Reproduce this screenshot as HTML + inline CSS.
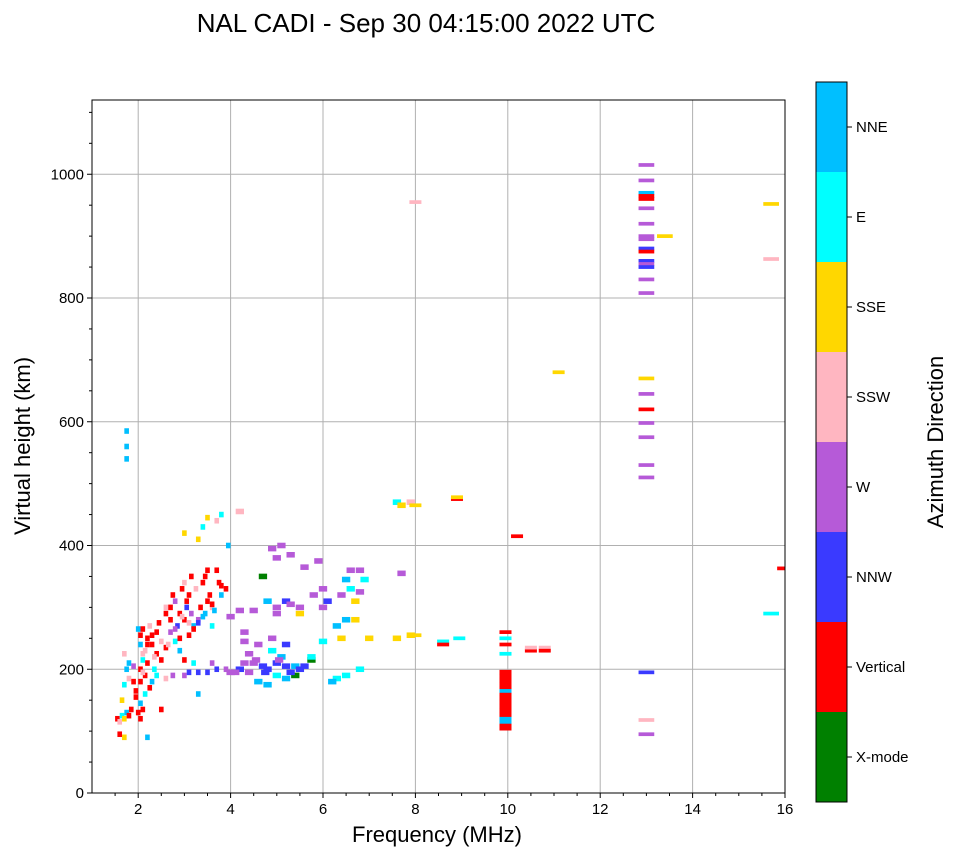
<!DOCTYPE html>
<html><head><meta charset="utf-8"><style>
body{margin:0;background:#fff;font-family:"Liberation Sans","DejaVu Sans",sans-serif;}
svg text{font-family:"Liberation Sans","DejaVu Sans",sans-serif;}
</style></head><body>
<svg id="c" width="958" height="857" xmlns="http://www.w3.org/2000/svg">
<defs><clipPath id="pc"><rect x="92" y="100" width="693" height="693"/></clipPath></defs>
<text x="426" y="32" font-size="26" text-anchor="middle">NAL CADI - Sep 30 04:15:00 2022 UTC</text>
<g id="grid"></g><g id="marks" clip-path="url(#pc)"></g><g id="axes"></g><g id="cbar"></g>
<text x="437" y="842" font-size="22" text-anchor="middle">Frequency (MHz)</text>
<text transform="translate(30,446) rotate(-90)" font-size="22" text-anchor="middle">Virtual height (km)</text>
<text transform="translate(943,442) rotate(-90)" font-size="22" text-anchor="middle">Azimuth Direction</text>
</svg>
<script>
const categories=["X-mode","Vertical","NNW","W","SSW","SSE","E","NNE"];
const catColors=["#008000","#ff0000","#3a3aff","#b65ad8","#ffb6c1","#ffd700","#00ffff","#00bfff"];
const codes={X:0,V:1,N:2,W:3,P:4,S:5,E:6,B:7};
const xTicks=[2,4,6,8,10,12,14,16];
const yTicks=[0,200,400,600,800,1000];
const freqs=[
1.55,1.6,1.65,1.7,1.75,1.8,1.85,1.6,1.7,1.65,
1.7,1.75,1.8,1.8,1.7,1.75,1.75,1.75,2.0,2.1,
2.05,1.9,1.95,2.2,2.05,2.05,2.1,2.05,2.05,2.1,
2.15,2.2,2.25,2.2,2.15,2.3,2.35,2.4,2.45,2.5,
2.5,2.4,2.6,2.6,2.7,2.7,2.75,2.8,2.85,2.9,
2.95,3.0,3.0,3.05,3.1,3.1,3.15,3.2,3.25,3.3,
3.35,3.4,3.45,3.5,3.55,3.6,3.7,3.75,3.8,3.9,
3.95,3.0,3.3,3.4,3.5,3.7,3.8,4.2,2.8,2.9,
3.0,3.2,3.3,2.6,2.75,3.0,3.1,3.3,3.5,3.7,
3.9,4.0,4.2,4.4,4.5,4.7,4.8,5.0,5.2,5.4,
5.5,4.6,4.8,5.0,5.2,5.4,5.75,5.75,5.1,4.3,
4.6,4.9,5.2,5.0,5.2,5.5,5.0,5.3,5.8,5.5,
4.5,4.8,4.2,4.3,4.0,4.7,4.9,5.1,5.3,5.0,
5.6,5.9,6.0,6.0,6.1,6.4,6.5,6.6,6.8,6.6,
6.8,6.9,6.7,6.5,6.7,6.4,6.3,6.0,6.3,6.5,
6.8,6.2,7.0,7.7,7.6,7.9,8.0,8.6,8.6,8.95,
7.6,7.7,7.9,8.0,8.9,8.9,10.2,11.1,8.0,13.4,
15.7,15.7,15.7,16.0,10.5,10.5,10.8,10.8,2.4,2.6,
2.9,3.2,3.4,3.6,2.3,2.7,3.1,3.5,3.8,2.5,
2.8,3.3,3.6,2.95,3.15,3.45,2.65,3.05,3.65,2.35,
2.1,2.2,2.3,2.15,2.25,2.05,2.1,1.95,2.0,1.9,
4.1,4.3,4.55,4.75,5.05,5.3,5.6,4.4,4.9,3.6,
9.95,9.95,9.95,9.95,9.95,9.95,9.95,9.95,9.95,9.95,
9.95,9.95,9.95,9.95,9.95,9.95,9.95,9.95,9.95,9.95,9.95,
13,13,13,13,13,13,13,13,13,13,
13,13,13,13,13,13,13,13,13,13,
13,13,13,13,13,13];
const heights=[
120,115,125,120,130,125,135,95,90,150,
175,200,185,210,225,540,560,585,130,135,
120,205,165,90,180,200,215,240,255,265,
230,250,270,210,190,180,200,260,275,245,
135,190,290,300,280,260,320,310,270,290,
330,340,280,300,255,320,350,270,330,280,
300,340,290,360,320,300,360,340,320,330,
400,420,410,430,445,440,450,455,245,230,
215,210,160,185,190,190,195,195,195,200,
200,195,200,195,210,205,200,210,205,205,
200,180,175,190,185,190,215,220,220,245,
240,250,240,300,310,300,290,305,320,290,
295,310,295,260,285,350,395,400,385,380,
365,375,330,300,310,320,345,360,360,330,
325,345,310,280,280,250,270,245,185,190,
200,180,250,355,250,255,255,245,240,250,
470,465,470,465,475,478,415,680,955,900,
952,863,290,363,230,235,235,230,225,235,
250,265,285,305,240,300,275,310,335,215,
265,275,270,285,290,350,240,310,295,220,
225,240,255,160,170,145,195,155,265,180,
195,210,215,195,215,195,205,225,230,210,
105,112,119,126,133,140,147,154,161,168,
175,182,189,195,115,120,165,260,250,240,225,
1015,990,970,965,960,945,920,900,895,880,
875,860,855,850,830,808,670,645,620,598,
575,530,510,195,118,95];
const dirs=[
"VPESBVVVSS",
"EBPBPBBBVV",
"VWVBVVEBVV",
"PVPVVBEVVP",
"VEVPVWVWNV",
"VPVNVVVBPW",
"VVBVVPVVBV",
"BSSESPEPEB",
"VEBPWWNNNN",
"WWNWWNNNNB",
"NBBEBXXEBW",
"WWNWNWWWWS",
"WBWWWXWWWW",
"WWWWNWBWWE",
"WESBSSBEEE",
"EBSWSSSEVE",
"ESPSVSVSPS",
"SPEVVPPVVV",
"VVBVVVPVVV",
"WNEPWVPVBP",
"PVVEVBPVBV",
"WWWNWNNWEW",
"VVVVVVVVVV",
"VVVVBBBVEVE",
"WWBVVWWWWN",
"VNWNWWSWVW",
"WWWNPW"].join("");
</script>
<script>
const NS="http://www.w3.org/2000/svg";
const L=92,R=785,T=100,B=793;
function xs(f){return L+(f-1)/15*(R-L);}
function ys(h){return B-h/1120*(B-T);}
function mk(tag,attrs,parent){const e=document.createElementNS(NS,tag);for(const k in attrs)e.setAttribute(k,attrs[k]);parent.appendChild(e);return e;}
const grid=document.getElementById('grid'),axes=document.getElementById('axes'),marks=document.getElementById('marks'),cb=document.getElementById('cbar');
xTicks.forEach(t=>{
 const g=mk('line',{x1:xs(t),x2:xs(t),y1:T,y2:B,stroke:'#b0b0b0','stroke-width':1},grid);
 
 
 mk('line',{x1:xs(t),x2:xs(t),y1:B,y2:B+5,stroke:'#000'},axes);
 const tx=mk('text',{x:xs(t),y:B+21,'font-size':15,'text-anchor':'middle'},axes);tx.textContent=t;
 
 
});
for(let m=1.5;m<16;m+=0.5){if(m%2!==0)mk('line',{x1:xs(m),x2:xs(m),y1:B,y2:B+3,stroke:'#000'},axes);}
yTicks.forEach(t=>{
 const g=mk('line',{x1:L,x2:R,y1:ys(t),y2:ys(t),stroke:'#b0b0b0','stroke-width':1},grid);
 
 
 mk('line',{x1:L-5,x2:L,y1:ys(t),y2:ys(t),stroke:'#000'},axes);
 const tx=mk('text',{x:L-8,y:ys(t)+5,'font-size':15,'text-anchor':'end'},axes);tx.textContent=t;
 
 
});
for(let m=50;m<1120;m+=50){if(m%200!==0)mk('line',{x1:L-3,x2:L,y1:ys(m),y2:ys(m),stroke:'#000'},axes);}
const fr=mk('rect',{x:L,y:T,width:R-L,height:B-T,fill:'none',stroke:'#000'},axes);


for(let i=0;i<freqs.length;i++){
 const f=freqs[i],h=heights[i],c=codes[dirs[i]]??1;
 const w=f<4?0.1:(f<8?0.18:(f<12?0.26:0.34));
 const hh=f<8?9:(Math.abs(f-9.95)<0.01&&c===1&&h<200?8:6);
 const r=mk('rect',{x:xs(f-w/2),y:ys(h+hh/2),width:xs(w)-xs(0),height:ys(0)-ys(hh),fill:catColors[c]},marks);
 
 
}
const cx=816,cw=31,cT=82,cB=802,n=categories.length,sh=(cB-cT)/n;
categories.forEach((name,i)=>{
 const y=cB-(i+1)*sh;
 const r=mk('rect',{x:cx,y:y,width:cw,height:sh,fill:catColors[i]},cb);
 
 
 mk('line',{x1:cx+cw,x2:cx+cw+5,y1:y+sh/2,y2:y+sh/2,stroke:'#000'},cb);
 const t=mk('text',{x:cx+cw+9,y:y+sh/2+5,'font-size':15},cb);t.textContent=name;
 
 
});
mk('rect',{x:cx,y:cT,width:cw,height:cB-cT,fill:'none',stroke:'#000'},cb);
</script>
</body></html>
